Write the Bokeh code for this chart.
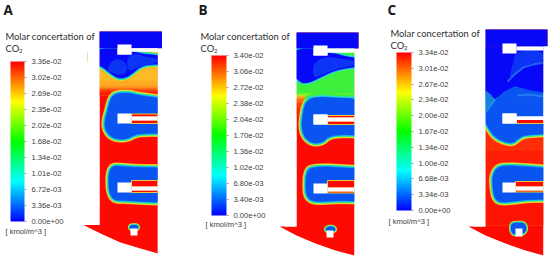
from bokeh.embed import file_html
from bokeh.resources import INLINE
from bokeh.plotting import figure
from bokeh.core.properties import value
from bokeh.models import ColorBar, LinearColorMapper, FixedTicker, Range1d
import numpy as np

# ---------- values ----------
PANELS = ["A", "B", "C"]
TICKS_A = [0.0, 3.36e-3, 6.72e-3, 1.01e-2, 1.34e-2, 1.68e-2, 2.02e-2, 2.35e-2, 2.69e-2, 3.02e-2, 3.36e-2]
TICKS_B = [0.0, 3.40e-3, 6.80e-3, 1.02e-2, 1.36e-2, 1.70e-2, 2.04e-2, 2.38e-2, 2.72e-2, 3.06e-2, 3.40e-2]
TICKS_C = [0.0, 3.34e-3, 6.68e-3, 1.00e-2, 1.34e-2, 1.67e-2, 2.00e-2, 2.34e-2, 2.67e-2, 3.01e-2, 3.34e-2]
LABELS_A = ["0.00e+00", "3.36e-03", "6.72e-03", "1.01e-02", "1.34e-02", "1.68e-02", "2.02e-02", "2.35e-02", "2.69e-02", "3.02e-02", "3.36e-02"]
LABELS_B = ["0.00e+00", "3.40e-03", "6.80e-03", "1.02e-02", "1.36e-02", "1.70e-02", "2.04e-02", "2.38e-02", "2.72e-02", "3.06e-02", "3.40e-02"]
LABELS_C = ["0.00e+00", "3.34e-03", "6.68e-03", "1.00e-02", "1.34e-02", "1.67e-02", "2.00e-02", "2.34e-02", "2.67e-02", "3.01e-02", "3.34e-02"]
TITLE = "Molar concertation of"
UNIT = "[ kmol/m^3 ]"

OUTLINE_A = [(99,31),(161.5,31),(161.5,47.7),(157.3,47.7),(157.3,253),(140,248),(120,242),(100,233),(83,224.5),(99,224.5)]
OUTLINE_B = [(296,32),(358,32),(358,48),(354,48),(354,255),(335,250),(315,243),(296,235),(279,226),(296,226)]
OUTLINE_C = [(485,29),(547,29),(547,46),(543,46),(543,255),(525,250),(505,243),(485,235),(468,226),(485,226)]

BANDS_A = [(47,80,"#FFBA28"),(80,85,"#FFAC22"),(85,87,"#FF9A1C"),(87,88,"#FF8016"),(88,89,"#FF6612"),(89,90,"#FF4C0E"),(90,92,"#FF300A"),(92,95,"#FF1C06")]
BANDS_B = [(47,93,"#3CF03C"),(93,95,"#8AF02C"),(95,96,"#E0D820"),(96,98,"#FFA018"),(98,102,"#FF6A12"),(102,108,"#FF400C"),(108,115,"#FF2208")]
BANDS_C = [(46,88,"#0A1AF8"),(88,92,"#1060F0"),(92,96,"#18A8D8"),(96,100,"#30E090"),(100,106,"#40E840"),(106,111,"#A0E830"),(111,115,"#F0D820"),(115,119,"#FF9018"),(119,123,"#FF4A0C"),(123,150,"#FF2C08"),(150,190,"#FF1E06"),(190,225,"#FF1404")]

TOP_A = [(90,48),(131,48),(131,50),(140,53),(150,54),(165,56),(165,64),(147,64),(139,67),(133,72),(126,77),(118,78),(110,73),(104,68),(99,65),(90,64)]
TOP_B = [(288,48),(327,48),(327,52),(336,53),(346,56),(362,58),(362,66),(343,68),(330,72),(320,77),(312,81),(305,83),(300,82),(296,78),(288,74)]
ISL2_A = [(115,93),(127,92),(140,95),(165,98),(165,133),(145,133),(135,134),(128,138),(120,139),(111,137),(105,130),(104,121),(107,110),(110,98)]
ISL3_A = [(113,165),(125,166),(140,167),(165,167),(165,202),(140,201),(125,200),(114,200),(109,193),(108,180),(109,170)]
ISL2_B = [(308,98),(320,96),(335,97),(362,98),(362,135),(340,134),(328,136),(322,142),(312,143),(304,137),(301,127),(302,115),(304,105)]
ISL3_B = [(310,167),(325,166),(340,167),(362,168),(362,201),(340,200),(325,201),(312,201),(306,196),(305,185),(306,172)]
ISL2_C = [(478,119),(485,122),(490,131),(495,137),(503,141),(512,143),(518,138),(523,135),(533,134),(552,133),(552,86),(510,86),(500,92),(492,104),(486,112)]
ISL3_C = [(497,166),(510,165),(525,166),(552,168),(552,199),(528,199),(512,201),(500,202),(494,198),(492,185),(492,175)]

LIGHT_A = [[(106,68),(114,58),(124,60),(128,70),(120,75),(110,72)],
           [(131,52),(145,56),(157,58),(157,63),(140,65),(128,72),(126,60)]]
LIGHT_B = [[(314,62),(325,56),(340,58),(354,60),(354,65),(338,68),(322,74),(314,78),(312,70)]]
LIGHT_C = [[(515,50),(543,50),(543,62),(523,66),(508,80),(512,65)]]
STREAK_C = [[(507,81),(514,74),(523,67),(533,64),(543,62)], [(517,95),(528,94),(543,96)]]
TOPCOL_C = [(485,46),(543,46),(543,92),(530,90),(515,86),(505,90),(498,96),(494,99),(490,94),(485,90)]
CYAN_C = [(485,90),(490,94),(494,99),(490,105),(485,112)]

CAP_A = [(129,226),(131,224.5),(136,224.5),(138,226),(137,229),(130,229)]
CAP_B = [(325,228),(328,226),(332,226),(335,228),(334,231),(326,231)]
CAP_C = [(510,228),(511,223),(516,222),(523,222),(526,226),(525,232),(520,234),(512,234)]

RECTS_A = [(117,131,44,54),(117,131,113,123),(117,131,182,192),(131,157.3,116,120),(131,157.3,186,190),(130,137,228,235)]
RECTS_B = [(313,327,45,55),(313,327,114,124),(313,327,183,193),(327,354,117,121),(327,354,187,191),(326,333,230,237)]
RECTS_C = [(502,516,43,53),(502,516,113,123),(502,515,182,192),(516,543,116,119.5),(515,543,186,190),(515,522,228,236)]
SLITS_A = [(131,157.3,47.7,51)]
SLITS_B = [(327,354,48,52)]
SLITS_C = [(516,543,46,50)]

REDS_A = [(131,157.3,113.5,116.5),(131,157.3,119.5,123),(131,157.3,180,186.5),(131,157.3,189.5,192)]
REDS_B = [(327,354,115,117.5),(327,354,120.5,124),(327,354,180,187.5),(327,354,190.5,192.5)]
REDS_C = [(516,543,119,123),(515,543,181,186.5),(515,543,189.5,191.5)]

# ---------- drawing ----------
p = figure(width=550, height=260, x_range=Range1d(0, 550), y_range=Range1d(260, 0),
           output_backend="svg", toolbar_location=None, min_border=0,
           outline_line_color=None, x_axis_location=None, y_axis_location=None)
p.grid.visible = False
p.background_fill_color = "white"
p.border_fill_color = "white"

RED = "#FE0A04"
BLUE = "#0A55F2"
DARK = "#0808F8"
STROKES = [(7.0, "#FFA020"), (5.6, "#D8EE30"), (4.2, "#40E870"), (2.8, "#20D8D8"), (1.4, "#1890F0")]
COOL = [(3.4, "#30E8A0"), (1.8, "#20C8E8")]
TINY = [(3.6, "#C8EE30"), (2.4, "#40E870"), (1.2, "#20B8E8")]


def smooth(pts, n=2):
    a = np.array(pts, float)
    for _ in range(n):
        b = np.roll(a, -1, axis=0)
        a = np.column_stack([0.75 * a + 0.25 * b, 0.25 * a + 0.75 * b]).reshape(-1, 2)
    return a[:, 0], a[:, 1]


def poly(pts, color):
    x, y = zip(*pts)
    p.patch(x, y, fill_color=color, line_color=None)


def blob(pts, fill=BLUE, strokes=STROKES, cool_top=0):
    x, y = smooth(pts)
    for w, c in strokes:
        p.patch(x, y, fill_color=None, line_color=c, line_width=w, line_join="round")
    if cool_top:
        tx, ty = zip(*pts[:cool_top])
        for w, c in [(7.5, "#3CF03C"), (3.4, "#30E8A0"), (1.8, "#20C8E8")]:
            p.line(tx, ty, line_color=c, line_width=w, line_join="round", line_cap="round")
    p.patch(x, y, fill_color=fill, line_color=None)


def rects(rs, color, line=None):
    for l, r, t, b in rs:
        p.quad(left=[l], right=[r], top=[t], bottom=[b], fill_color=color, line_color=line, line_width=1)


def ramp():
    stops = [(0, 0, 255), (0, 255, 255), (0, 255, 0), (255, 255, 0), (255, 0, 0)]
    out = []
    for t in np.linspace(0, 4, 256):
        i = min(int(t), 3)
        f = t - i
        c = [round(stops[i][k] * (1 - f) + stops[i + 1][k] * f) for k in range(3)]
        out.append("#%02x%02x%02x" % tuple(c))
    return out


def colorbar(ticks, labels, x, top, bottom, w):
    mapper = LinearColorMapper(palette=ramp(), low=ticks[0], high=ticks[-1])
    cb = ColorBar(color_mapper=mapper, ticker=FixedTicker(ticks=ticks),
                  major_label_overrides=dict(zip(ticks, labels)),
                  location=(x, 260 - bottom), width=w, height=bottom - top, padding=0,
                  margin=0, background_fill_color=None, border_line_color=None, bar_line_color=None,
                  major_tick_in=0, major_tick_out=2, major_tick_line_color="#999999",
                  minor_tick_line_color=None, label_standoff=5,
                  major_label_text_font="Liberation Sans", major_label_text_font_size="7.6px",
                  major_label_text_color="#404040")
    p.add_layout(cb, "center")


def words(x, y, s, size, font="Lato", color="#303030", style="normal"):
    p.text([x], [y], text=[s], text_font=value(font), text_font_size=value(size),
           text_color=color, text_baseline="middle", text_font_style=style)


def panel(outline, bands, isles, cap, holes, slits, reds, right, left):
    poly(outline, RED)
    bottom = bands[-1][1]
    for t, b, c in bands:
        p.quad(left=[left], right=[right], top=[t], bottom=[bottom], fill_color=c, line_color=None)
    for isle, kw in isles:
        blob(isle, **kw)
    rects(reds, RED, line="#E8C830")
    blob(cap, strokes=TINY)
    rects([(left - 12, left, outline[0][1], outline[-1][1]), (right, right + 12, outline[2][1], 258)], "white")
    rects(holes, "white")
    rects(slits, "white")


panel(OUTLINE_A, BANDS_A, [(TOP_A, dict(fill=DARK)), (ISL2_A, {}), (ISL3_A, {})], CAP_A, RECTS_A, SLITS_A, REDS_A, 157.3, 99)
panel(OUTLINE_B, BANDS_B, [(TOP_B, dict(fill=DARK, strokes=COOL)), (ISL2_B, dict(cool_top=4)), (ISL3_B, {})], CAP_B, RECTS_B, SLITS_B, REDS_B, 354, 296)
panel(OUTLINE_C, BANDS_C, [(ISL2_C, {}), (ISL3_C, {})], CAP_C, RECTS_C, SLITS_C, REDS_C, 543, 485)

for outline, bottom in ((OUTLINE_A, 47.7), (OUTLINE_B, 48), (OUTLINE_C, 46)):
    poly([outline[0], outline[1], outline[2], (outline[0][0], bottom)], DARK)
poly(TOPCOL_C, DARK)
poly(CYAN_C, "#1880E0")
for group in (LIGHT_A, LIGHT_B, LIGHT_C):
    for pts in group:
        x, y = smooth(pts)
        p.patch(x, y, fill_color="#1060F0", line_color=None, fill_alpha=0.5)
for pts in STREAK_C:
    x, y = zip(*pts)
    p.line(x, y, line_color="#3098F0", line_width=1.8, line_alpha=0.6)
rects(RECTS_A[:1] + RECTS_B[:2] + RECTS_C[:2] + SLITS_A + SLITS_B + SLITS_C, "white")
rects(RECTS_C[3:4], "white")
rects([(543, 555, 46, 120)], "white")

colorbar(TICKS_A, LABELS_A, 10, 61, 221, 14)
colorbar(TICKS_B, LABELS_B, 211, 55, 215, 15)
colorbar(TICKS_C, LABELS_C, 396, 52, 210, 15)

for name, x, y in zip(PANELS, [3, 198, 387], [9, 9, 9]):
    words(x, y, name, "13.5px", font="Open Sans", style="bold", color="#1a1a1a")
for x, y in ((5, 36), (200, 36), (390, 33)):
    words(x, y, TITLE, "9.4px")
    words(x, y + 12, "CO", "9.4px")
    words(x + 13.5, y + 14.5, "2", "6px")
for x, y in ((5, 231), (205, 224), (388, 221)):
    words(x, y, UNIT, "7.6px", font="Liberation Sans", color="#404040")

open("out.html", "w").write(file_html(p, INLINE))
